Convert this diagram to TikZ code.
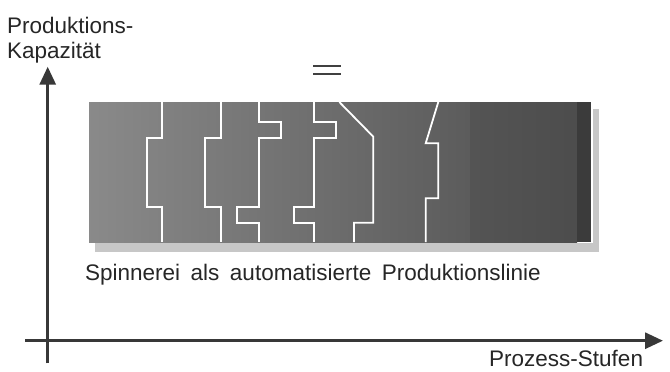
\documentclass[tikz,border=0pt]{standalone}
\usepackage{fontspec}
\setmainfont{Liberation Sans}
\usetikzlibrary{arrows.meta}

\begin{document}
\begin{tikzpicture}[x=1pt, y=-1pt,
  axis/.style={line width=3pt, draw=black!78, -{Triangle[length=18pt,width=16pt]}},
  seam/.style={draw=white, line width=1.8pt},
  txt/.style={font=\fontsize{22.5}{25}\selectfont, text=black!85, inner sep=0pt, anchor=base west}]

\useasboundingbox (0,0) rectangle (670,372);

% Axes
\coordinate (xstart) at (25,340.7);
\coordinate (xend) at (663,340.7);
\coordinate (ystart) at (47.7,363.3);
\coordinate (yend) at (47.7,66.7);
\draw[axis] (xstart) -- (xend);
\draw[axis] (ystart) -- (yend);

% Bar with shadow
\fill[black!22] (95,108.5) rectangle (599,251.5);
\fill[white] (87.5,100.5) rectangle (592.7,243.2);
\shade[left color=black!46, right color=black!64] (89,102) rectangle (470,242);
\shade[left color=black!67, right color=black!70] (470,102) rectangle (577,242);
\fill[black!77] (577,102) rectangle (591,242);

% Process steps
\draw[seam] (162.3,102) -- (162.3,137.7) -- (146.7,137.7) -- (146.7,206.7) -- (162.3,206.7) -- (162.3,242);
\draw[seam] (220.7,102) -- (220.7,137.7) -- (205,137.7) -- (205,206.7) -- (220.7,206.7) -- (220.7,242);
\draw[seam] (259.3,102) -- (259.3,121.7) -- (280.7,121.7) -- (280.7,137.7) -- (259.3,137.7)
  -- (259.3,206.7) -- (237.3,206.7) -- (237.3,222.7) -- (259.3,222.7) -- (259.3,242);
\draw[seam] (314,102) -- (314,121.7) -- (336,121.7) -- (336,137.7) -- (314,137.7)
  -- (314,206.7) -- (294,206.7) -- (294,222.7) -- (314,222.7) -- (314,242);
\draw[seam] (339.3,102) -- (373.3,136.7) -- (373.3,222.7) -- (354,222.7) -- (354,242);
\draw[seam] (438.3,102) -- (425.7,143.3) -- (438.3,143.3) -- (438.3,198.3) -- (425.7,198.3) -- (425.7,242);

% Equal sign
\draw[black!75, line width=2pt] (313.3,65.7) -- (340.7,65.7);
\draw[black!75, line width=2pt] (313.3,73.7) -- (340.7,73.7);

% Labels
\node[txt] (prodlabel) at (7,33) {Produktions-};
\node[txt] (kaplabel) at (7,58) {Kapazität};
\node[txt] (spinlabel) at (85,280) {\spaceskip=10.5pt Spinnerei als automatisierte Produktionslinie};
\node[txt] (stufenlabel) at (489,366.7) {Prozess-Stufen};

\end{tikzpicture}
\end{document}
